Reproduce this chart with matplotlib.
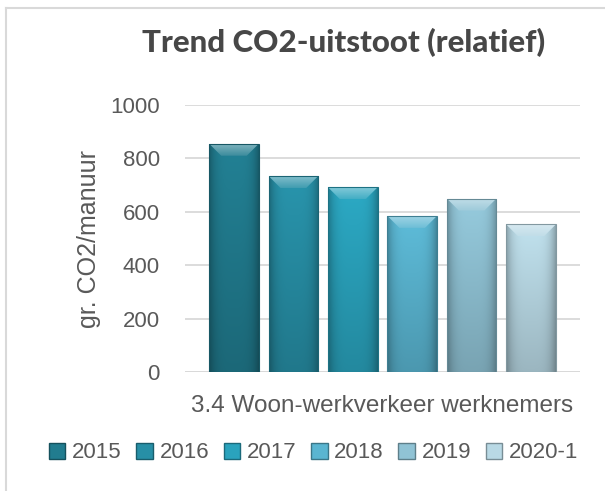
import numpy as np
import matplotlib
matplotlib.use("Agg")
import matplotlib.pyplot as plt
from matplotlib.patches import Patch, Polygon
from matplotlib.colors import to_rgb
from matplotlib.lines import Line2D

years = ["2015", "2016", "2017", "2018", "2019", "2020-1"]
values = [855, 734, 692, 585, 650, 553]
category = "3.4 Woon-werkverkeer werknemers"
colors = ["#217c8f", "#278fa6", "#2aa3bd", "#5ab5d1", "#90c3d5", "#b9d9e5"]

txt = "#595959"
grid = "#d9d9d9"
plt.rcParams["font.family"] = ["Liberation Sans", "DejaVu Sans"]

W, H = 605, 491
fig = plt.figure(figsize=(W / 100, H / 100), dpi=100)
ax = fig.add_axes([185 / W, (H - 372.3) / H, 395 / W, 267.3 / H])

step = 0.1504
width = 0.1253
xs = (np.arange(len(years)) - (len(years) - 1) / 2) * step

ax.set_xlim(-0.5, 0.5)
ax.set_ylim(0, 1000)
ax.set_yticks(np.arange(0, 1001, 200))
ax.yaxis.grid(True, color=grid, lw=1.3)
ax.set_axisbelow(True)
for s in ax.spines.values():
    s.set_visible(False)
ax.axhline(0, color=grid, lw=1.3, zorder=1)

# pixel -> data sizes for the bevel
px_x = 1.0 / 395
px_y = 1000 / 267.3


def blend(c, t, w):
    c = np.array(to_rgb(c))
    return tuple(c + (np.array(t) - c) * w)


bars = ax.bar(xs, values, width=width, color=colors, zorder=2, linewidth=0)

for b, c in zip(bars, colors):
    x0, y0 = b.get_x(), b.get_y()
    w, h = b.get_width(), b.get_height()
    top = y0 + h
    base = np.array(to_rgb(c))
    # body shading: lighter top, darker bottom and sides
    u = np.linspace(0, 1, 60)
    v = np.linspace(1, 0, 80)
    fx = 1 - 0.28 * np.abs(2 * u - 1) ** 4
    fy = 0.84 + 0.2 * v
    img = np.clip(base[None, None, :] * fy[:, None, None] * fx[None, :, None], 0, 1)
    im = ax.imshow(img, extent=(x0, x0 + w, y0, top), aspect="auto",
                   zorder=2.1, interpolation="bilinear")
    im.set_clip_path(b)
    # top bevel
    bh = 12 * px_y
    bi = 12 * px_x
    poly = Polygon([(x0, top), (x0 + w, top), (x0 + w - bi, top - bh), (x0 + bi, top - bh)],
                   closed=True, facecolor="none", edgecolor="none", zorder=2.2)
    ax.add_patch(poly)
    t = np.linspace(1, 0, 30)
    bev = np.array([blend(c, (1, 1, 1), 0.12 + 0.3 * k) for k in t])[:, None, :]
    bev = np.repeat(bev, 2, axis=1)
    bim = ax.imshow(bev, extent=(x0, x0 + w, top - bh, top), aspect="auto",
                    zorder=2.2, interpolation="bilinear")
    bim.set_clip_path(poly)
    ax.add_patch(Polygon([(x0, y0), (x0 + w, y0), (x0 + w, top), (x0, top)], closed=True,
                         fill=False, edgecolor=blend(c, (0, 0, 0), 0.3), lw=0.8, zorder=2.4))

ax.set_ylim(0, 1000)
ax.set_xlim(-0.5, 0.5)
ax.set_xticks([0])
ax.set_xticklabels([category], fontsize=17.5, color=txt)
ax.tick_params(axis="x", length=0, pad=16)
ax.tick_params(axis="y", length=0, pad=18, labelsize=16, labelcolor=txt)

ax.set_ylabel("gr. CO2/manuur", fontsize=18, color=txt, va="center")
ax.yaxis.set_label_coords((89 - 185) / 395, 0.5)

fig.text(344 / W, 1 - 43 / H, "Trend CO2-uitstoot (relatief)", ha="center", va="center",
         fontsize=22.5, fontweight="black", color="#474747", family=["Lato", "DejaVu Sans"])

handles = [Patch(facecolor=c, edgecolor=blend(c, (0, 0, 0), 0.35)) for c in colors]
fig.legend(handles, years, loc="center", bbox_to_anchor=(313.5 / W, 1 - 453 / H),
           ncol=len(years), frameon=False, fontsize=16, labelcolor=txt,
           handlelength=0.75, handleheight=0.75, handletextpad=0.3, columnspacing=0.65,
           borderpad=0, borderaxespad=0)

# chart border (top and left edges visible)
fig.add_artist(Line2D([6 / W, 6 / W], [0, 1 - 8 / H], color=grid, lw=1.5))
fig.add_artist(Line2D([6 / W, 1], [1 - 8 / H, 1 - 8 / H], color=grid, lw=1.5))

fig.savefig("out.png", dpi=100)
